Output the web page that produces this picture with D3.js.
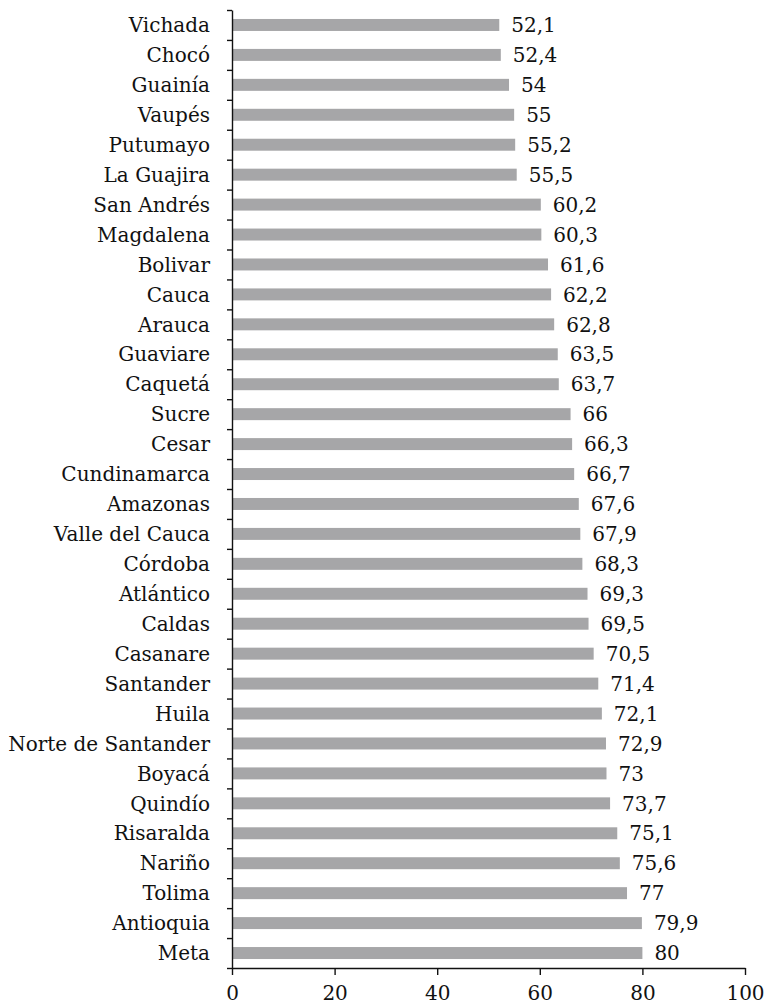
<!DOCTYPE html>
<html>
<head>
<meta charset="utf-8">
<script src="https://cdn.jsdelivr.net/npm/d3@7"></script>
<style>
  body { margin: 0; background: #fff; }
</style>
</head>
<body>
<div id="chart"></div>
<script>
var departamentos = ['Vichada', 'Chocó', 'Guainía', 'Vaupés', 'Putumayo', 'La Guajira',
    'San Andrés', 'Magdalena', 'Bolivar', 'Cauca', 'Arauca', 'Guaviare', 'Caquetá',
    'Sucre', 'Cesar', 'Cundinamarca', 'Amazonas', 'Valle del Cauca', 'Córdoba',
    'Atlántico', 'Caldas', 'Casanare', 'Santander', 'Huila', 'Norte de Santander',
    'Boyacá', 'Quindío', 'Risaralda', 'Nariño', 'Tolima', 'Antioquia', 'Meta'];
var valores = [52.1, 52.4, 54, 55, 55.2, 55.5, 60.2, 60.3, 61.6, 62.2, 62.8, 63.5, 63.7,
    66, 66.3, 66.7, 67.6, 67.9, 68.3, 69.3, 69.5, 70.5, 71.4, 72.1, 72.9,
    73, 73.7, 75.1, 75.6, 77, 79.9, 80];
var ticks_x = [0, 20, 40, 60, 80, 100];

var width = 765,
    height = 1007;
var m_left = 232, m_right = 745, m_top = 10, m_bottom = 968;
var font_size = 20;
var serif = '"DejaVu Serif", "Liberation Serif", serif';

var data = departamentos.map(function (d, i) {
    return { name: d, value: valores[i] };
});

var svg = d3.select('#chart')
    .append('svg')
    .attr('width', width)
    .attr('height', height);

var x = d3.scaleLinear()
    .domain([0, 100])
    .range([m_left, m_right]);

var y = d3.scaleBand()
    .domain(departamentos)
    .range([m_top, m_bottom])
    .paddingInner(0.6)
    .paddingOuter(0.3);

// category boundaries for the y ticks
var yEdges = d3.scaleLinear()
    .domain([0, departamentos.length])
    .range([m_top, m_bottom]);

svg.selectAll('rect.bar')
    .data(data)
    .enter()
    .append('rect')
    .attr('class', 'bar')
    .attr('x', x(0))
    .attr('y', function (d) { return y(d.name); })
    .attr('width', function (d) { return x(d.value) - x(0); })
    .attr('height', y.bandwidth())
    .attr('fill', '#a6a6a8');

// value labels
svg.selectAll('text.val')
    .data(data)
    .enter()
    .append('text')
    .attr('class', 'val')
    .attr('x', function (d) { return x(d.value) + 12; })
    .attr('y', function (d) { return y(d.name) + y.bandwidth() / 2; })
    .attr('dy', '0.36em')
    .text(function (d) { return String(d.value).replace('.', ','); });

// category labels
svg.selectAll('text.cat')
    .data(data)
    .enter()
    .append('text')
    .attr('class', 'cat')
    .attr('x', 210)
    .attr('y', function (d) { return y(d.name) + y.bandwidth() / 2; })
    .attr('dy', '0.36em')
    .attr('text-anchor', 'end')
    .text(function (d) { return d.name; });

var yAxis = svg.append('g')
    .attr('transform', 'translate(' + m_left + ',0)')
    .call(d3.axisLeft(yEdges)
        .tickValues(d3.range(departamentos.length + 1))
        .tickFormat('')
        .tickSize(5)
        .tickSizeOuter(0));

var xAxis = svg.append('g')
    .attr('transform', 'translate(0,' + m_bottom + ')')
    .call(d3.axisBottom(x)
        .tickValues(ticks_x)
        .tickSize(7)
        .tickSizeOuter(0)
        .tickPadding(11));

svg.selectAll('.domain, .tick line')
    .attr('stroke', '#111')
    .attr('stroke-width', 1.4);

svg.selectAll('text')
    .style('font-family', serif)
    .style('font-size', font_size + 'px')
    .style('fill', '#111');
</script>
</body>
</html>
